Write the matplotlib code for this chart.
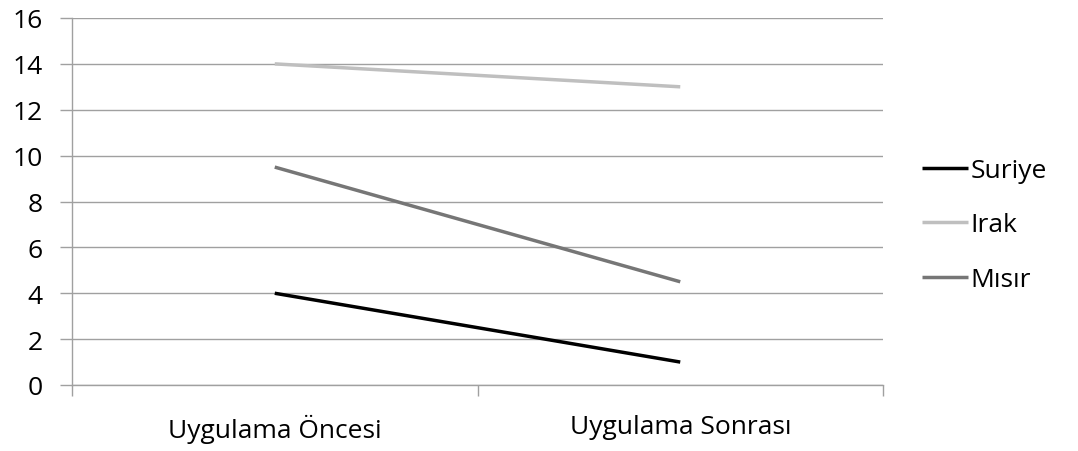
import matplotlib
matplotlib.use("Agg")
import matplotlib.pyplot as plt

categories = ["Uygulama Öncesi", "Uygulama Sonrası"]
series_names = ["Suriye", "Irak", "Mısır"]
suriye = [4, 1]
irak = [14, 13]
misir = [9.5, 4.5]
yticks = [0, 2, 4, 6, 8, 10, 12, 14, 16]

plt.rcParams['font.family'] = ['Open Sans', 'DejaVu Sans']

W, H = 1078, 452
fig = plt.figure(figsize=(W/100, H/100), dpi=100)
ax = fig.add_axes([72/W, 1-386/H, (883-72)/W, (386-19)/H])

x = [0, 1]
colors = ["#000000", "#bfbfbf", "#767676"]
for vals, name, c in zip([suriye, irak, misir], series_names, colors):
    ax.plot(x, vals, color=c, lw=2.5, label=name, solid_capstyle='butt')

FS = 19
ax.set_xlim(-0.5, 1.5)
ax.set_ylim(0, 16)
ax.set_yticks(yticks)
ax.set_yticklabels([str(v) for v in yticks], fontsize=FS)
ax.set_xticks([-0.5, 0.5, 1.5])
ax.set_xticklabels([])
ax.set_xticks(x, minor=True)
ax.set_xticklabels(categories, minor=True, fontsize=FS)
ax.tick_params(axis='x', which='minor', length=0, pad=21)
ax.tick_params(axis='x', which='major', length=8, color='#a0a0a0', width=1)
ax.tick_params(axis='y', length=9, color='#a0a0a0', width=1, pad=12)
ax.grid(axis='y', color='#a0a0a0', lw=1)
ax.set_axisbelow(True)
for s in ['top', 'right']:
    ax.spines[s].set_visible(False)
for s in ['left', 'bottom']:
    ax.spines[s].set_color('#a0a0a0')
    ax.spines[s].set_linewidth(1)

leg = ax.legend(loc='center left', bbox_to_anchor=(922/W, 1-226/H), bbox_transform=fig.transFigure,
                frameon=False, fontsize=FS, handlelength=1.75, handletextpad=0.08,
                labelspacing=1.12, borderpad=0, borderaxespad=0)

fig.savefig("out.png", dpi=100)
